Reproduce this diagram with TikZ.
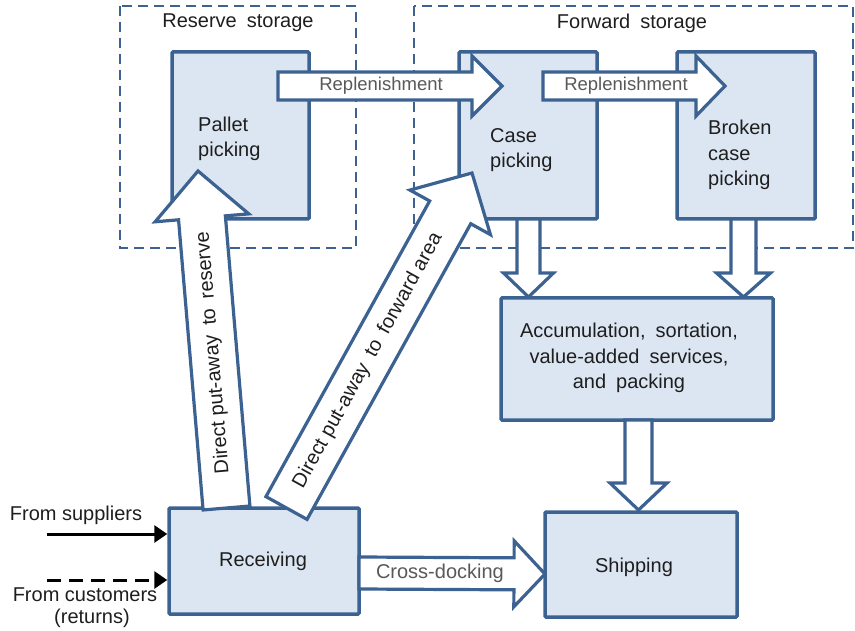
\documentclass[tikz,border=0pt]{standalone}
\usepackage{fontspec}
\setmainfont{Liberation Sans}
\usetikzlibrary{calc,arrows.meta}
\definecolor{bxfill}{RGB}{220,230,242}
\definecolor{bxline}{RGB}{60,98,146}
\definecolor{txt}{RGB}{30,30,30}
\definecolor{gtxt}{RGB}{89,89,89}
\newcommand\wsp{\hspace{0.5em}}
% #1 start, #2 tip, #3 shaft half width, #4 head half width, #5 head length
\newcommand\blockarrow[5]{%
  \coordinate (ba-h) at ($(#2)!#5!(#1)$);
  \draw[barrow] ($(#1)!#3!90:(#2)$) -- ($(ba-h)!#3!90:(#2)$) -- ($(ba-h)!#4!90:(#2)$)
    -- (#2) -- ($(ba-h)!#4!-90:(#2)$) -- ($(ba-h)!#3!-90:(#2)$) -- ($(#1)!#3!-90:(#2)$) -- cycle;}
\begin{document}
\begin{tikzpicture}[x=1pt,y=-1pt,
  box/.style={draw=bxline, fill=bxfill, line width=3.5pt, rounded corners=1pt, inner sep=0pt},
  zone/.style={draw=bxline, line width=2pt, dash pattern=on 10pt off 6pt},
  barrow/.style={draw=bxline, fill=white, line width=3.2pt, line join=miter},
  lbl/.style={font=\fontsize{20}{25.5}\selectfont, text=txt, inner sep=0pt},
  alabel/.style={font=\fontsize{18.5}{22}\selectfont, text=gtxt, inner sep=0pt},
  inarrow/.style={draw=black, line width=3pt, -{Triangle[length=13pt,width=17pt]}}]
\useasboundingbox (0,0) rectangle (855,631);

% storage zones
\draw[zone] (120,6) rectangle (356,248);
\draw[zone] (414,6) rectangle (853,248);
\node[lbl] (reserve-t) at (238,23) {Reserve\wsp storage};
\node[lbl] (forward-t) at (632,23) {Forward\wsp storage};

% boxes
\node[box, minimum width=137pt, minimum height=167pt] (pallet) at (240.5,135.5) {};
\node[box, minimum width=138pt, minimum height=167pt] (case) at (528,135.5) {};
\node[box, minimum width=138pt, minimum height=167pt] (broken) at (746,135.5) {};
\node[box, minimum width=272pt, minimum height=122pt] (accum) at (637,359) {};
\node[box, minimum width=190pt, minimum height=106pt] (recv) at (264,561) {};
\node[box, minimum width=192pt, minimum height=105pt] (ship) at (641,564.5) {};

\node[lbl, anchor=west, align=left] (pallet-t) at (198,139) {Pallet\\picking};
\node[lbl, anchor=west, align=left] (case-t) at (490,150) {Case\\picking};
\node[lbl, anchor=west, align=left] (broken-t) at (708,155) {Broken\\case\\picking};
\node[lbl, align=center] (accum-t) at (629,358) {Accumulation,\wsp sortation,\\value-added\wsp services,\\and\wsp packing};
\node[lbl] (recv-t) at (263,561) {Receiving};
\node[lbl] (ship-t) at (634,567) {Shipping};

% arrow end points
\coordinate (r1a) at (278,86);   \coordinate (r1b) at (502,86);
\coordinate (r2a) at (543,86);   \coordinate (r2b) at (725,86);
\coordinate (d1a) at (528.5,219); \coordinate (d1b) at (528.5,297);
\coordinate (d2a) at (743.5,219); \coordinate (d2b) at (743.5,297);
\coordinate (d3a) at (638.5,420); \coordinate (d3b) at (638.5,510);
\coordinate (xda) at (359,573);  \coordinate (xdb) at (545,574);
\coordinate (p1a) at (226.5,508); \coordinate (p1b) at (198,171);
\coordinate (p2a) at (286.5,508); \coordinate (p2b) at (472,173);

% block arrows
\blockarrow{d1a}{d1b}{11.5pt}{25pt}{24pt}
\blockarrow{d2a}{d2b}{12.5pt}{27pt}{24pt}
\blockarrow{d3a}{d3b}{13.5pt}{28.5pt}{27pt}
\blockarrow{r1a}{r1b}{14pt}{30pt}{30pt}
\blockarrow{r2a}{r2b}{14pt}{30pt}{29pt}
\blockarrow{xda}{xdb}{16pt}{33pt}{31pt}
\blockarrow{p1a}{p1b}{23.5pt}{47pt}{47pt}
\blockarrow{p2a}{p2b}{23.5pt}{46pt}{45pt}

\path (r1a) -- (r1b) node[alabel, pos=0.46] (r1-t) {Replenishment};
\path (r2a) -- (r2b) node[alabel, pos=0.456] (r2-t) {Replenishment};
\path (xda) -- (xdb) node[lbl, text=gtxt, pos=0.435] (xd-t) {Cross-docking};
\path (p1a) -- (p1b) node[lbl, pos=0.46, sloped, allow upside down] (p1-t) {Direct put-away\wsp to\wsp reserve};
\path (p2a) -- (p2b) node[lbl, pos=0.44, sloped] (p2-t) {Direct put-away\wsp to\wsp forward area};

% inbound flows
\coordinate (sup) at (47,534);
\coordinate (cus) at (47,580);
\draw[inarrow] (sup) -- (sup -| recv.west);
\draw[inarrow, dash pattern=on 14pt off 8pt] (cus) -- (cus -| recv.west);
\node[lbl] (sup-t) at (76,515) {From suppliers};
\node[lbl] (cus-t) at (85,595) {From customers};
\node[lbl] (ret-t) at (92,618) {(returns)};
\end{tikzpicture}
\end{document}
